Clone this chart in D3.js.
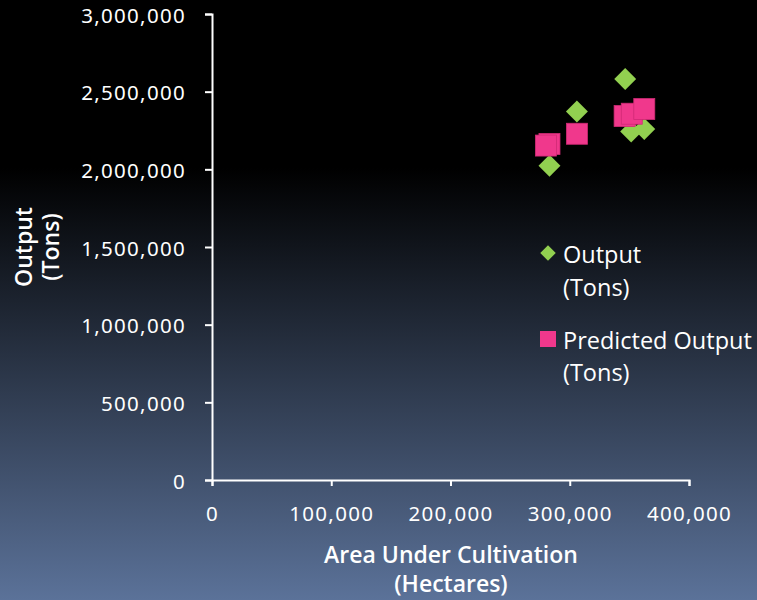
<!DOCTYPE html>
<meta charset="utf-8">
<head>
<title>Output vs Area</title>
<style>
body { margin: 0; background: #000; }
svg text { fill: #fff; font-family: "Noto Sans", "Open Sans", sans-serif; }
.tick text { font-size: 20.5px; letter-spacing: 1.3px; }
.axis path, .axis line { stroke: #fff; stroke-width: 2; }
.title { font-weight: 600; font-size: 23px; font-family: "Open Sans", sans-serif; }
.legend text { font-size: 23.5px; font-family: "Open Sans", sans-serif; }
</style>
</head>
<body>
<script src="https://cdn.jsdelivr.net/npm/d3@7"></script>
<script>

// Data
var outputArea = [283000, 306000, 346500, 351500, 362500];
var outputTons = [2023000, 2372000, 2582000, 2244000, 2259000];
var predArea = [283000, 280000, 306000, 346000, 352000, 362500];
var predTons = [2163000, 2153000, 2229000, 2343000, 2358000, 2388000];
var xTicks = [0, 100000, 200000, 300000, 400000];
var yTicks = [0, 500000, 1000000, 1500000, 2000000, 2500000, 3000000];

var W = 757, H = 600,
    margin = {top: 14, right: 68, bottom: 120, left: 212},
    width = W - margin.left - margin.right,
    height = H - margin.top - margin.bottom;

var svg = d3.select("body").append("svg")
    .attr("width", W)
    .attr("height", H);

// background gradient
var grad = svg.append("defs").append("linearGradient")
    .attr("id", "bg").attr("x1", 0).attr("y1", 0).attr("x2", 0).attr("y2", 1);
grad.append("stop").attr("offset", "0").attr("stop-color", "#000");
grad.append("stop").attr("offset", "0.28").attr("stop-color", "#000");
grad.append("stop").attr("offset", "1").attr("stop-color", "#5b7299");
svg.append("rect").attr("width", W).attr("height", H).attr("fill", "url(#bg)");

var g = svg.append("g")
    .attr("transform", "translate(" + margin.left + "," + margin.top + ")");

var x = d3.scaleLinear().domain([0, 400000]).range([0, width]);
var y = d3.scaleLinear().domain([0, 3000000]).range([height, 0]);
var fmt = d3.format(",");

var xAxis = g.append("g")
    .attr("class", "axis")
    .attr("transform", "translate(0," + height + ")")
    .call(d3.axisBottom(x).tickValues(xTicks).tickFormat(fmt).tickSize(6).tickSizeOuter(6).tickPadding(20));

var yAxis = g.append("g")
    .attr("class", "axis")
    .call(d3.axisLeft(y).tickValues(yTicks).tickFormat(fmt).tickSize(7).tickSizeOuter(7).tickPadding(19));
yAxis.selectAll(".tick text").attr("dy", "0.4em");

// axis titles
var yt = svg.append("text")
    .attr("class", "title")
    .attr("text-anchor", "middle")
    .attr("transform", "translate(32,247) rotate(-90)");
yt.append("tspan").attr("x", 0).attr("y", 0).text("Output");
yt.append("tspan").attr("x", 0).attr("y", 27).text("(Tons)");

var xt = svg.append("text")
    .attr("class", "title")
    .attr("text-anchor", "middle");
xt.append("tspan").attr("x", 451).attr("y", 563).text("Area Under Cultivation");
xt.append("tspan").attr("x", 451).attr("y", 592).text("(Hectares)");

// points
var diamond = d3.symbol().type(d3.symbolSquare).size(240);

g.selectAll(".out")
    .data(d3.zip(outputArea, outputTons))
    .enter().append("path")
    .attr("class", "out")
    .attr("d", diamond)
    .attr("transform", function(d) { return "translate(" + x(d[0]) + "," + y(d[1]) + ") rotate(45)"; })
    .attr("fill", "#92d050");

g.selectAll(".pred")
    .data(d3.zip(predArea, predTons))
    .enter().append("rect")
    .attr("class", "pred")
    .attr("x", function(d) { return x(d[0]) - 10.5; })
    .attr("y", function(d) { return y(d[1]) - 10.5; })
    .attr("width", 21)
    .attr("height", 21)
    .attr("fill", "#f0388c")
    .attr("stroke", "#d02a75")
    .attr("stroke-width", 0.8);

// legend
var lg = svg.append("g").attr("class", "legend");
lg.append("path")
    .attr("d", d3.symbol().type(d3.symbolSquare).size(120))
    .attr("transform", "translate(548,253) rotate(45)")
    .attr("fill", "#92d050");
var l1 = lg.append("text");
l1.append("tspan").attr("x", 563).attr("y", 263).text("Output");
l1.append("tspan").attr("x", 563).attr("y", 296).text("(Tons)");
lg.append("rect")
    .attr("x", 540).attr("y", 331).attr("width", 16).attr("height", 16)
    .attr("fill", "#f0388c");
var l2 = lg.append("text");
l2.append("tspan").attr("x", 563).attr("y", 349).text("Predicted Output");
l2.append("tspan").attr("x", 563).attr("y", 381).text("(Tons)");

</script>
</body>
